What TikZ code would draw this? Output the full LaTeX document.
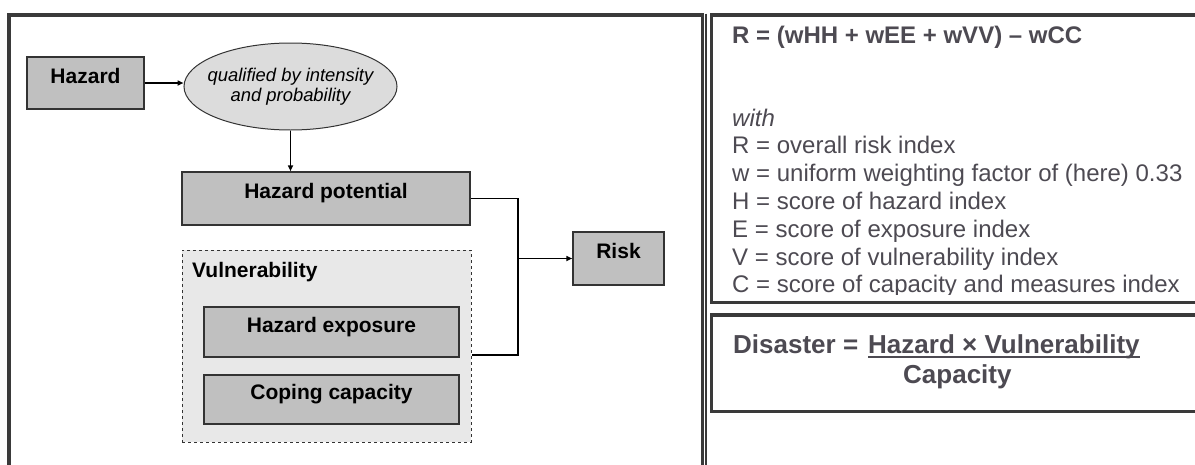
\documentclass[tikz,border=0pt]{standalone}
\usepackage{fontspec}
\setmainfont{Liberation Sans}
\usetikzlibrary{shapes.geometric,arrows.meta}
\definecolor{framegray}{HTML}{3A3A3A}
\definecolor{boxline}{HTML}{333333}
\definecolor{boxgray}{HTML}{C0C0C0}
\definecolor{ellfill}{HTML}{DCDCDC}
\definecolor{vulnfill}{HTML}{E8E8E8}
\definecolor{textgray}{RGB}{77,74,82}
\newcommand{\pxfont}[2]{\fontsize{#1}{#2}\selectfont}

\begin{document}
\begin{tikzpicture}[x=1pt,y=-1pt,
    frame/.style={draw=framegray,line width=3.2pt},
    box/.style={draw=boxline,fill=boxgray,line width=1.5pt,inner sep=0pt,
        font=\pxfont{21}{25}\bfseries,text height=15pt,text depth=15pt},
    qual/.style={ellipse,draw=boxline,line width=1pt,fill=ellfill,align=center,
        inner xsep=-12pt,inner ysep=0pt,font=\pxfont{18.4}{20.5}\itshape},
    vulnbox/.style={draw=boxline,fill=vulnfill,line width=1pt,dashed,inner sep=0pt},
    vtitle/.style={anchor=base west,inner sep=0pt,font=\pxfont{21}{25}\bfseries},
    conn/.style={line width=1.6pt},
    arr/.style={conn,-{Triangle[length=6pt,width=5pt]}},
    legend/.style={anchor=base west,inner sep=0pt,text=textgray,font=\pxfont{24}{28}},
    eqfont/.style={legend,font=\pxfont{24}{28}\bfseries},
    disfont/.style={legend,font=\pxfont{26}{30}\bfseries}]
    \useasboundingbox (0,0) rectangle (1195,464);
    \clip (0,0) rectangle (1195,464);

    % frames
    \draw[frame] (9,15) rectangle (702.6,480);
    \draw[frame,line width=1.8pt] (706,13.6) -- (706,480);
    \draw[frame] (711.2,15) rectangle (1215,302.5);
    \draw[frame] (711.2,315) rectangle (1215,411.5);

    % left: hazard chain
    \node[box,minimum width=117pt,minimum height=52pt] (hazard) at (85.5,83) {Hazard};
    \node[qual,minimum width=213pt,minimum height=87pt] (qualif) at (290.5,86.5)
        {qualified by intensity\\and probability};
    \node[box,minimum width=288pt,minimum height=53pt] (hazpot) at (326,198.5) {Hazard potential};

    % vulnerability group
    \node[vulnbox,minimum width=289pt,minimum height=192pt] (vuln) at (326.5,346) {};
    \node[vtitle] (vulntitle) at (192,277) {Vulnerability};
    \node[box,minimum width=255pt,minimum height=50pt] (exposure) at (331.5,332) {Hazard exposure};
    \node[box,minimum width=255pt,minimum height=49pt] (coping) at (331.5,399.5) {Coping capacity};

    \node[box,minimum width=91pt,minimum height=53pt] (risk) at (618.5,258.5) {Risk};

    % connectors
    \coordinate (join) at (518,258.5);
    \coordinate (vulnout) at ([yshift=-9pt]vuln.east);
    \draw[arr] (hazard.east) -- (hazard.east -| qualif.west);
    \draw[arr] (qualif.south) -- (qualif.south |- hazpot.north);
    \draw[conn] (hazpot.east) -| (join) |- (vulnout);
    \draw[arr] (join) -- (risk.west);

    % right: risk index
    \node[eqfont] (riskeq) at (732,43) {R = (wHH + wEE + wVV) – wCC};
    \node[legend,font=\pxfont{24}{28}\itshape] (with) at (732,126) {with};
    \begin{scope}
        \clip (711,15) rectangle (1200,294.5);
        \foreach \txt [count=\i] in {R = overall risk index,
            w = uniform weighting factor of (here) 0.33,
            H = score of hazard index,
            E = score of exposure index,
            V = score of vulnerability index,
            C = score of capacity and measures index}
            \node[legend] (leg\i) at (732,{126+27.8*\i}) {\txt};
    \end{scope}

    % right: disaster
    \node[disfont] (dis) at (733,353) {Disaster =};
    \node[disfont] (num) at (868,353) {Hazard × Vulnerability};
    \draw[textgray,line width=2pt] ([yshift=-4pt]num.base west) -- ([yshift=-4pt]num.base east);
    \node[disfont] (cap) at (903,383) {Capacity};
\end{tikzpicture}
\end{document}
